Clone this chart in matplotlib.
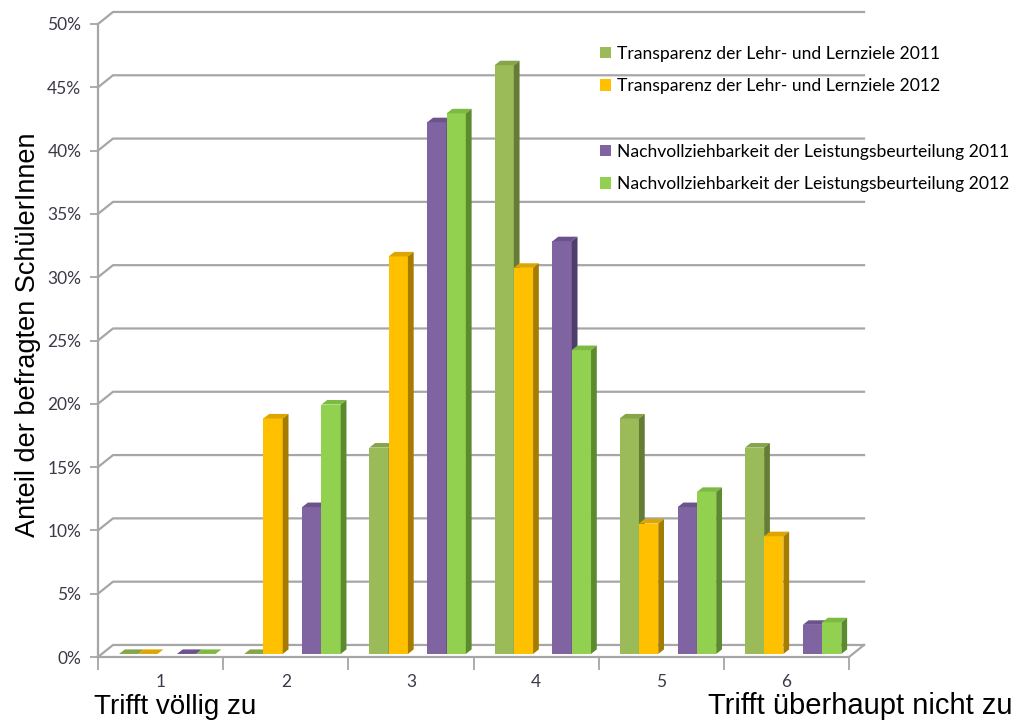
import numpy as np
import matplotlib.pyplot as plt
from matplotlib.patches import Polygon, Patch

# Werte in Prozent
categories = [1, 2, 3, 4, 5, 6]
transparenz_2011 = [0.0, 0.0, 16.3, 46.5, 18.6, 16.3]
transparenz_2012 = [0.0, 18.6, 31.4, 30.5, 10.3, 9.3]
nachvollz_2011 = [0.0, 11.6, 42.0, 32.6, 11.6, 2.3]
nachvollz_2012 = [0.0, 19.7, 42.7, 24.0, 12.8, 2.5]

series_labels = [
    "Transparenz der Lehr- und Lernziele 2011",
    "Transparenz der Lehr- und Lernziele 2012",
    "Nachvollziehbarkeit der Leistungsbeurteilung 2011",
    "Nachvollziehbarkeit der Leistungsbeurteilung 2012",
]
y_ticks = [0, 5, 10, 15, 20, 25, 30, 35, 40, 45, 50]
y_ticklabels = [f"{t}%" for t in y_ticks]

# front, top, side colours
colors = [
    ("#9BBB59", "#86A44A", "#657C36"),
    ("#FFC000", "#DDA500", "#A67C00"),
    ("#8064A2", "#6C538B", "#4F3D6B"),
    ("#92D050", "#7DBA42", "#5C8A2E"),
]

W, H = 1016, 720
fig = plt.figure(figsize=(W / 100, H / 100), dpi=100)
ax = fig.add_axes([98 / W, 63 / H, 751 / W, 633 / H])
ax.set_xlim(0.5, 6.5)
ax.set_ylim(0, 50)

grid_col = "#A6A6A6"
DX, DY = 0.12, 0.95        # depth of back wall
SDX, SDY = 0.046, 0.36     # depth of a bar
base = 0.24
bw = 0.154
offsets = [-0.332, -0.178, 0.131, 0.285]

# back wall grid lines with the little diagonal to the front axis
for t in y_ticks:
    ax.plot([0.5, 0.5 + DX, 6.5 + DX], [t, t + DY, t + DY],
            color=grid_col, lw=1.6, clip_on=False, zorder=1)
# floor
ax.plot([6.5, 6.5 + DX], [0, DY], color=grid_col, lw=1.6, clip_on=False, zorder=1)

series = [transparenz_2011, transparenz_2012, nachvollz_2011, nachvollz_2012]
x = np.array(categories, dtype=float)
for k in range(len(categories)):
    for s in range(4):
        v = series[s][k]
        x0 = x[k] + offsets[s]
        front, top, side = colors[s]
        ax.bar(x0, v, width=bw, bottom=base, align="edge", color=front,
               edgecolor="none", zorder=3)
        yt = base + v
        ax.add_patch(Polygon([(x0, yt), (x0 + bw, yt), (x0 + bw + SDX, yt + SDY),
                              (x0 + SDX, yt + SDY)], closed=True,
                             facecolor=top, edgecolor="none", zorder=3))
        ax.add_patch(Polygon([(x0 + bw, base), (x0 + bw + SDX, base + SDY),
                              (x0 + bw + SDX, yt + SDY), (x0 + bw, yt)], closed=True,
                             facecolor=side, edgecolor="none", zorder=3))

for sp in ["top", "right"]:
    ax.spines[sp].set_visible(False)
for sp in ["left", "bottom"]:
    ax.spines[sp].set_color(grid_col)
    ax.spines[sp].set_linewidth(1.6)

tick_font = dict(family="Lato", size=12.5, color="#3A3A48")
ax.set_yticks(y_ticks)
ax.set_yticklabels(y_ticklabels, **tick_font)
ax.tick_params(axis="y", length=6, width=1.3, color=grid_col, pad=6)

ax.set_xticks(categories)
ax.set_xticklabels([str(c) for c in categories], **tick_font)
ax.set_xticks(np.arange(0.5, 7, 1), minor=True)
ax.tick_params(axis="x", which="major", length=0, pad=12)
ax.tick_params(axis="x", which="minor", length=9, width=1.3, color=grid_col)

fig.text(28 / W, 1 - 335 / H, "Anteil der befragten SchülerInnen", rotation=90,
         ha="center", va="center", family="Liberation Sans", fontsize=19.5)
fig.text(94 / W, 6 / H, "Trifft völlig zu", ha="left", va="baseline",
         family="Liberation Sans", fontsize=20)
fig.text(1012 / W, 6 / H, "Trifft überhaupt nicht zu", ha="right", va="baseline",
         family="Liberation Sans", fontsize=21)

handles = [Patch(facecolor=colors[0][0]), Patch(facecolor=colors[1][0]),
           Patch(facecolor="none", edgecolor="none"),
           Patch(facecolor=colors[2][0]), Patch(facecolor=colors[3][0])]
labels = [series_labels[0], series_labels[1], "", series_labels[2], series_labels[3]]
fig.legend(handles, labels, loc="upper left", bbox_to_anchor=(584 / W, 1 - 30 / H),
           frameon=False, prop=dict(family="Lato", size=12.6), handlelength=0.65,
           handleheight=0.65, handletextpad=0.35, labelspacing=0.95)

fig.savefig("out.png", dpi=100)
